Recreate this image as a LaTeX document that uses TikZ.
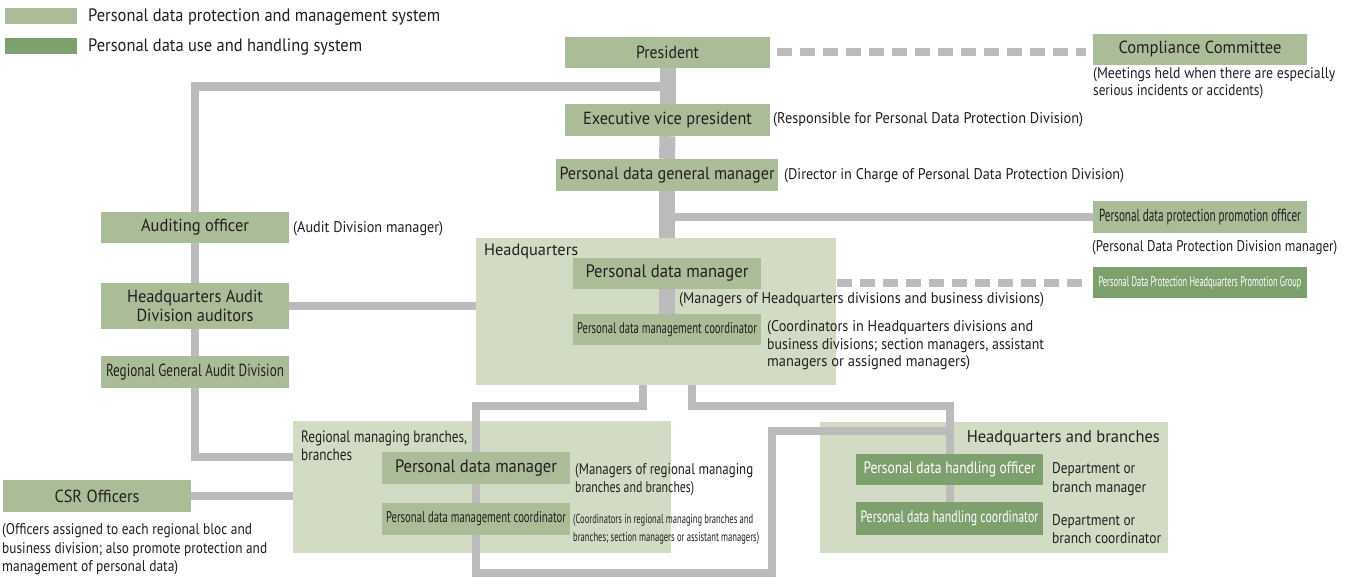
\documentclass[tikz,border=0pt]{standalone}
\usepackage{fontspec}
\setmainfont{PT Sans}
\usepackage{graphicx}
\definecolor{lg}{HTML}{AABD98}
\definecolor{dg}{HTML}{7EA06E}
\definecolor{cg}{HTML}{D2DCC4}
\definecolor{ln}{HTML}{BBBBBB}
\definecolor{tx}{HTML}{231F20}
\newsavebox\sqbox
\newlength\sqlen
\newcommand\sqz[2]{\sbox\sqbox{#2}\setlength\sqlen{\wd\sqbox}\pgfmathsetmacro\sqf{#1/\sqlen}\scalebox{\sqf}[1]{\usebox\sqbox}}
\begin{document}
\begin{tikzpicture}[x=1pt,y=-1pt,
  box/.style={rectangle, inner sep=0pt, text=tx, anchor=center},
  lbox/.style={box, fill=lg},
  dbox/.style={box, fill=dg, text=white},
  cont/.style={rectangle, fill=cg, inner sep=0pt, anchor=north west},
  conn/.style={draw=ln, line width=8pt},
  trunk/.style={draw=ln, line width=16pt},
  dsh/.style={draw=ln, line width=8pt, dash pattern=on 15pt off 8pt},
  ann/.style={inner sep=0pt, anchor=west, align=left, text=tx, font=\fontsize{15.5}{18}\selectfont},
  bt/.style={font=\fontsize{17.5}{20}\selectfont},
  st/.style={font=\fontsize{15.5}{18}\selectfont}
]
\fill[white] (0,0) rectangle (1352,578);
\path[use as bounding box] (0,0) rectangle (1352,578);

% legend
\node[lbox, minimum width=72pt, minimum height=16pt] (sw1) at (41,16) {};
\node[dbox, minimum width=72pt, minimum height=16pt] (sw2) at (41,46) {};
\node[ann, font=\fontsize{18}{21}\selectfont] (lg1) at (88,17) {\sqz{352}{Personal data protection and management system}};
\node[ann, font=\fontsize{18}{21}\selectfont] (lg2) at (88,47) {\sqz{274}{Personal data use and handling system}};

% containers
\node[cont, minimum width=360pt, minimum height=147pt] (hq) at (476,238) {};
\node[cont, minimum width=378pt, minimum height=132pt] (reg) at (293,421) {};
\node[cont, minimum width=348pt, minimum height=131pt] (hb) at (820,422) {};

% boxes (positions)
\path
 node[lbox, minimum width=205pt, minimum height=31pt, bt] (pres) at (667.5,52.5) {\sqz{63}{President}}
 node[lbox, minimum width=214pt, minimum height=31pt, bt] (comp) at (1200,49.5) {\sqz{163}{Compliance Committee}}
 node[lbox, minimum width=205pt, minimum height=32pt, bt] (evp) at (667.5,120) {\sqz{169}{Executive vice president}}
 node[lbox, minimum width=222pt, minimum height=32pt, bt] (gm) at (667,175) {\sqz{215}{Personal data general manager}}
 node[lbox, minimum width=214pt, minimum height=32pt, bt] (ppo) at (1200,217) {\sqz{202}{Personal data protection promotion officer}}
 node[dbox, minimum width=214pt, minimum height=31pt, font=\fontsize{14}{16}\selectfont] (grp) at (1200,282.5) {\sqz{203}{Personal Data Protection Headquarters Promotion Group}}
 node[lbox, minimum width=188pt, minimum height=31pt, font=\fontsize{18}{21}\selectfont] (hqpdm) at (667,273.5) {\sqz{163}{Personal data manager}}
 node[lbox, minimum width=188pt, minimum height=31pt, st] (hqpdc) at (667,329.5) {\sqz{180}{Personal data management coordinator}}
 node[lbox, minimum width=188pt, minimum height=31pt, bt] (aud) at (195,227.5) {\sqz{108}{Auditing officer}}
 node[lbox, minimum width=188pt, minimum height=46pt, bt, align=center] (hqaud) at (195,306) {\sqz{136}{Headquarters Audit}\\[-1pt]\sqz{117}{Division auditors}}
 node[lbox, minimum width=188pt, minimum height=32pt, bt] (rgad) at (195,372) {\sqz{178}{Regional General Audit Division}}
 node[lbox, minimum width=188pt, minimum height=32pt, bt] (csr) at (97,496) {\sqz{85}{CSR Officers}}
 node[lbox, minimum width=188pt, minimum height=32pt, font=\fontsize{18}{21}\selectfont] (rpdm) at (476,468) {\sqz{162}{Personal data manager}}
 node[lbox, minimum width=188pt, minimum height=32pt, st] (rpdc) at (476,519) {\sqz{180}{Personal data management coordinator}}
 node[dbox, minimum width=187pt, minimum height=31pt, font=\fontsize{16.5}{19}\selectfont] (hbo) at (949.5,469.5) {\sqz{172}{Personal data handling officer}}
 node[dbox, minimum width=187pt, minimum height=32pt, font=\fontsize{16.5}{19}\selectfont] (hbc) at (949.5,518.5) {\sqz{178}{Personal data handling coordinator}};

% connectors
\coordinate (yA) at (0,86.5);
\coordinate (yB) at (0,456.5);
\coordinate (j1) at (692,405.5);
\coordinate (j2) at (643,405.5);
\coordinate (j3) at (772,573);
\coordinate (j4) at (772,431);
\draw[conn] (pres.south |- yA) -| (aud.north);
\draw[conn] (aud.south) -- (hqaud.north);
\draw[conn] (hqaud.south) -- (rgad.north);
\draw[conn] (rgad.south) |- (reg.west |- yB);
\draw[conn] (hqaud.east) -- (hqaud.east -| hq.west);
\draw[conn] (csr.east) -- (csr.east -| reg.west);
\draw[conn] (gm.south |- ppo.west) -- (ppo.west);
\draw[trunk] (pres.south) -- (evp.north);
\draw[trunk] (evp.south) -- (gm.north);
\draw[trunk] (gm.south) -- (gm.south |- hq.north);
\draw[trunk] (hqpdm.south) -- (hqpdc.north);
\draw[dsh, shorten <=7pt, shorten >=7pt] (pres.east) -- (pres.east -| comp.west);
\draw[dsh, shorten <=1pt, shorten >=5pt] (hq.east |- grp.west) -- (grp.west);
\draw[conn] (hq.south -| j1) |- (hbo.north |- j1) -- (hbc.north);
\draw[conn] (hq.south -| j2) |- (rpdm.north |- j2) -- (rpdm.north |- j3) -- (j3) -- (j4) -- (hbo.north |- j4);

% redraw boxes on top of connectors
\foreach \n in {pres,comp,evp,gm,ppo,hqpdm,hqpdc,aud,hqaud,rgad,csr,rpdm,rpdc}{
  \fill[lg] (\n.south west) rectangle (\n.north east);
}
\foreach \n in {grp,hbo,hbc}{
  \fill[dg] (\n.south west) rectangle (\n.north east);
}
\path
 node[box, bt] at (pres) {\sqz{63}{President}}
 node[box, bt] at (comp) {\sqz{163}{Compliance Committee}}
 node[box, bt] at (evp) {\sqz{169}{Executive vice president}}
 node[box, bt] at (gm) {\sqz{215}{Personal data general manager}}
 node[box, bt] at (ppo) {\sqz{202}{Personal data protection promotion officer}}
 node[box, text=white, font=\fontsize{14}{16}\selectfont] at (grp) {\sqz{203}{Personal Data Protection Headquarters Promotion Group}}
 node[box, font=\fontsize{18}{21}\selectfont] at (hqpdm) {\sqz{163}{Personal data manager}}
 node[box, st] at (hqpdc) {\sqz{180}{Personal data management coordinator}}
 node[box, bt] at (aud) {\sqz{108}{Auditing officer}}
 node[box, bt, align=center] at (hqaud) {\sqz{136}{Headquarters Audit}\\[-1pt]\sqz{117}{Division auditors}}
 node[box, bt] at (rgad) {\sqz{178}{Regional General Audit Division}}
 node[box, bt] at (csr) {\sqz{85}{CSR Officers}}
 node[box, font=\fontsize{18}{21}\selectfont] at (rpdm) {\sqz{162}{Personal data manager}}
 node[box, st] at (rpdc) {\sqz{180}{Personal data management coordinator}}
 node[box, text=white, font=\fontsize{16.5}{19}\selectfont] at (hbo) {\sqz{172}{Personal data handling officer}}
 node[box, text=white, font=\fontsize{16.5}{19}\selectfont] at (hbc) {\sqz{178}{Personal data handling coordinator}};

% container labels
\node[ann, font=\fontsize{16.5}{19}\selectfont] (hqlab) at (484,251) {\sqz{94}{Headquarters}};
\node[ann, font=\fontsize{16.5}{18}\selectfont] (reglab) at (301,446) {\sqz{166}{Regional managing branches,}\\\sqz{51}{branches}};
\node[ann, anchor=east, font=\fontsize{17}{20}\selectfont] (hblab) at (1160,438) {\sqz{193}{Headquarters and branches}};

% annotations
\node[ann] (aevp) at (773,120) {\sqz{310}{(Responsible for Personal Data Protection Division)}};
\node[ann] (agm) at (784,176) {\sqz{340}{(Director in Charge of Personal Data Protection Division)}};
\node[ann, font=\fontsize{15.5}{16.5}\selectfont] (acomp) at (1093,83) {\sqz{242}{(Meetings held when there are especially}\\\sqz{170}{serious incidents or accidents)}};
\node[ann] (appo) at (1092,248) {\sqz{245}{(Personal Data Protection Division manager)}};
\node[ann] (aaud) at (293,229) {\sqz{150}{(Audit Division manager)}};
\node[ann] (ahqpdm) at (679,300) {\sqz{365}{(Managers of Headquarters divisions and business divisions)}};
\node[ann, font=\fontsize{15.5}{17.5}\selectfont] (ahqpdc) at (767,345.5) {\sqz{266}{(Coordinators in Headquarters divisions and}\\\sqz{277}{business divisions; section managers, assistant}\\\sqz{203}{managers or assigned managers)}};
\node[ann] (arpdm) at (575,480) {\sqz{178}{(Managers of regional managing}\\\sqz{119}{branches and branches)}};
\node[ann, font=\fontsize{13}{18}\selectfont] (arpdc) at (573,529) {\sqz{180}{(Coordinators in regional managing branches and}\\\sqz{186}{branches; section managers or assistant managers)}};
\node[ann, font=\fontsize{15.5}{18.5}\selectfont] (acsr) at (2,549.5) {\sqz{250}{(Officers assigned to each regional bloc and}\\\sqz{265}{business division; also promote protection and}\\\sqz{176}{management of personal data)}};
\node[ann, font=\fontsize{15.5}{19}\selectfont] (ahbo) at (1052,479.5) {\sqz{83}{Department or}\\\sqz{94}{branch manager}};
\node[ann] (ahbc) at (1052,529) {\sqz{83}{Department or}\\\sqz{109}{branch coordinator}};
\end{tikzpicture}
\end{document}
